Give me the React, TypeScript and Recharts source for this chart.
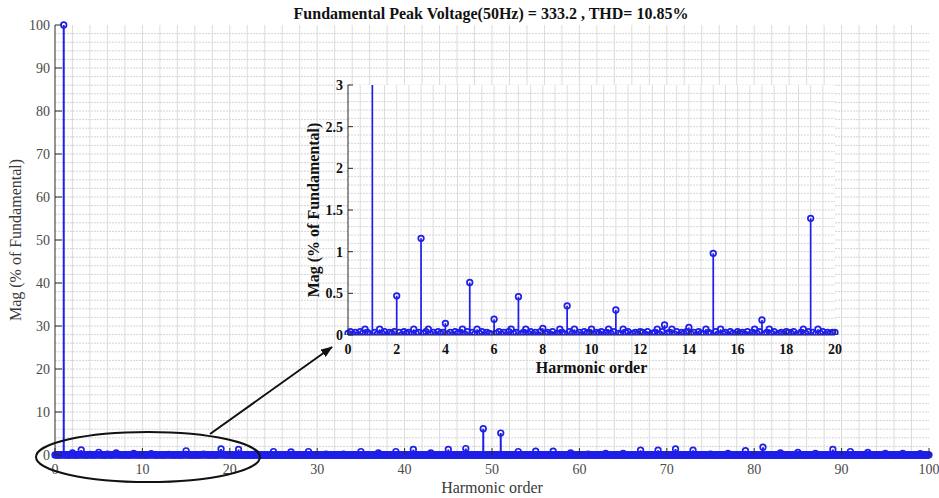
import {
  ComposedChart,
  Line,
  Scatter,
  XAxis,
  YAxis,
  CartesianGrid,
  ReferenceLine,
} from "recharts";

const BLUE = "#1f1fe8";
const AXIS = "#2b2b2b";
const SERIF = '"Liberation Serif", "Times New Roman", serif';

// FFT bins 0.0 .. 20.0 in steps of 0.1 harmonic order (% of fundamental)
const lowOrderBins = [
  0.02, 0.04, 0.01, 0.03, 0.0, 0.04, 0.02, 0.07, 0.03, 0.01, // 0
  100, 0.03, 0.01, 0.07, 0.02, 0.04, 0.0, 0.03, 0.02, 0.04, // 1
  0.47, 0.03, 0.0, 0.04, 0.02, 0.03, 0.01, 0.07, 0.02, 0.03, // 2
  1.16, 0.02, 0.04, 0.07, 0.01, 0.03, 0.0, 0.04, 0.02, 0.03, // 3
  0.14, 0.01, 0.03, 0.0, 0.04, 0.02, 0.03, 0.07, 0.01, 0.04, // 4
  0.63, 0.03, 0.01, 0.07, 0.02, 0.04, 0.0, 0.03, 0.02, 0.01, // 5
  0.19, 0.02, 0.04, 0.01, 0.03, 0.0, 0.04, 0.07, 0.02, 0.03, // 6
  0.46, 0.01, 0.03, 0.07, 0.02, 0.04, 0.01, 0.03, 0.0, 0.04, // 7
  0.08, 0.02, 0.03, 0.01, 0.04, 0.0, 0.02, 0.07, 0.03, 0.01, // 8
  0.35, 0.04, 0.02, 0.07, 0.01, 0.03, 0.0, 0.04, 0.02, 0.03, // 9
  0.07, 0.01, 0.03, 0.02, 0.04, 0.0, 0.03, 0.07, 0.02, 0.04, // 10
  0.3, 0.02, 0.01, 0.07, 0.03, 0.04, 0.0, 0.02, 0.03, 0.01, // 11
  0.04, 0.03, 0.01, 0.04, 0.0, 0.02, 0.03, 0.07, 0.01, 0.04, // 12
  0.12, 0.02, 0.03, 0.07, 0.01, 0.04, 0.0, 0.03, 0.02, 0.04, // 13
  0.09, 0.01, 0.03, 0.0, 0.04, 0.02, 0.01, 0.07, 0.03, 0.02, // 14
  0.98, 0.04, 0.01, 0.07, 0.02, 0.03, 0.0, 0.04, 0.02, 0.01, // 15
  0.04, 0.02, 0.03, 0.01, 0.04, 0.0, 0.03, 0.07, 0.02, 0.04, // 16
  0.18, 0.01, 0.03, 0.07, 0.02, 0.04, 0.0, 0.02, 0.03, 0.01, // 17
  0.04, 0.03, 0.02, 0.04, 0.0, 0.01, 0.03, 0.07, 0.02, 0.04, // 18
  1.4, 0.03, 0.01, 0.07, 0.02, 0.04, 0.0, 0.03, 0.02, 0.03, // 19
  0.03, // 20
];

// integer harmonics 21 .. 100 (% of fundamental)
const highOrderMag = [
  1.3, 0.1, 0.3, 0.05, 0.8, 0.1, 0.7, 0.05, 0.8, 0.05, // 21-30
  0.2, 0.05, 0.2, 0.05, 0.8, 0.05, 0.5, 0.05, 0.8, 0.1, // 31-40
  1.3, 0.05, 0.5, 0.05, 1.3, 0.1, 1.5, 0.05, 6.1, 0.1, // 41-50
  5.1, 0.05, 0.8, 0.05, 0.9, 0.05, 0.9, 0.05, 0.5, 0.05, // 51-60
  0.2, 0.05, 0.4, 0.05, 0.4, 0.05, 1.1, 0.05, 1.1, 0.05, // 61-70
  1.4, 0.05, 1.1, 0.05, 0.2, 0.05, 0.4, 0.05, 1.0, 0.1, // 71-80
  1.8, 0.05, 0.5, 0.05, 0.6, 0.05, 0.4, 0.05, 1.3, 0.05, // 81-90
  0.8, 0.05, 0.6, 0.05, 0.4, 0.05, 0.4, 0.05, 0.3, 0.05, // 91-100
];

const mainTicks = [0, 10, 20, 30, 40, 50, 60, 70, 80, 90, 100];
const insetTicksX = [0, 2, 4, 6, 8, 10, 12, 14, 16, 18, 20];
const insetTicksY = [0, 0.5, 1, 1.5, 2, 2.5, 3];

const titleText = "Fundamental Peak Voltage(50Hz) = 333.2 , THD= 10.85%";
const xTitle = "Harmonic order";
const yTitle = "Mag (% of Fundamental)";

const range = (from: number, to: number, step: number) => {
  const out: number[] = [];
  for (let v = from; v <= to + 1e-9; v += step) out.push(Math.round(v * 100) / 100);
  return out;
};
const mainGridX = range(2, 98, 2);
const mainGridY = range(2, 98, 2);
const insetGridX = range(0.5, 19.5, 0.5);
const insetGridY = range(0.1, 2.9, 0.1);

// full spectrum on the 0.1 grid; bins above order 20 only carry the integer harmonics
const spectrum: { x: number; y: number }[] = [];
for (let k = 0; k <= 1000; k++) {
  let y = 0;
  if (k < lowOrderBins.length) y = lowOrderBins[k];
  else if (k % 10 === 0) y = highOrderMag[k / 10 - 21];
  spectrum.push({ x: k / 10, y });
}
const insetSpectrum = spectrum.slice(0, lowOrderBins.length);

// stem lines: down to baseline, up to the value, back to baseline
const toStems = (pts: { x: number; y: number }[]) =>
  pts.flatMap((p) => [
    { x: p.x, y: 0 },
    { x: p.x, y: p.y },
    { x: p.x, y: 0 },
  ]);
const mainStems = toStems(spectrum);
const insetStems = toStems(insetSpectrum);

const Ring = (props: any) => (
  <circle cx={props.cx} cy={props.cy} r={2.8} fill="none" stroke={BLUE} strokeWidth={1.7} />
);

const textStyle = (bold: boolean) => ({
  fontFamily: SERIF,
  fontSize: 14,
  fontWeight: bold ? 700 : 400,
  fill: bold ? "#111" : "#4a4a4a",
});

const BottomTick = ({ x, y, payload, len, bold }: any) => (
  <g>
    <line x1={x} y1={y} x2={x} y2={y - len} stroke={AXIS} />
    <text x={x} y={y + 19} textAnchor="middle" {...textStyle(bold)}>
      {payload.value}
    </text>
  </g>
);
const LeftTick = ({ x, y, payload, len, bold }: any) => (
  <g>
    <line x1={x} y1={y} x2={x + len} y2={y} stroke={AXIS} />
    <text x={x - 5} y={y + 5} textAnchor="end" {...textStyle(bold)}>
      {payload.value}
    </text>
  </g>
);
const TopTick = ({ x, y, len }: any) => (
  <line x1={x} y1={y} x2={x} y2={y + len} stroke={AXIS} />
);
const RightTick = ({ x, y, len }: any) => (
  <line x1={x} y1={y} x2={x - len} y2={y} stroke={AXIS} />
);

const gridLines = (xs: number[], ys: number[], vStroke: string, hStroke: string) => [
  ...xs.map((v) => (
    <ReferenceLine key={`gx${v}`} x={v} stroke={vStroke} strokeWidth={1} />
  )),
  ...ys.map((v) => (
    <ReferenceLine key={`gy${v}`} y={v} stroke={hStroke} strokeWidth={1} strokeDasharray="2 1" />
  )),
];

const MainChart = () => (
  <ComposedChart width={939} height={498} margin={{ top: 25, right: 10, bottom: 0, left: 0 }}>
    {gridLines(mainGridX, mainGridY, "#dcdcdc", "#d4d4d4")}
    <XAxis
      type="number"
      dataKey="x"
      domain={[0, 100]}
      ticks={mainTicks}
      interval={0}
      height={43}
      tickSize={0}
      tickMargin={0}
      tickLine={false}
      axisLine={{ stroke: AXIS }}
      tick={(p: any) => <BottomTick {...p} len={7} bold={false} />}
      label={({ viewBox }: any) => (
        <text
          x={viewBox.x + viewBox.width / 2}
          y={viewBox.y + 38}
          textAnchor="middle"
          fontFamily={SERIF}
          fontSize={16}
          fill="#3a3a3a"
        >
          {xTitle}
        </text>
      )}
    />
    <XAxis
      xAxisId="top"
      orientation="top"
      type="number"
      domain={[0, 100]}
      ticks={mainTicks}
      interval={0}
      height={0}
      tickSize={0}
      tickMargin={0}
      tickLine={false}
      axisLine={{ stroke: AXIS }}
      tick={(p: any) => <TopTick {...p} len={7} />}
    />
    <YAxis
      type="number"
      dataKey="y"
      domain={[0, 100]}
      ticks={mainTicks}
      interval={0}
      width={55}
      tickSize={0}
      tickMargin={0}
      tickLine={false}
      axisLine={{ stroke: AXIS }}
      tick={(p: any) => <LeftTick {...p} len={7} bold={false} />}
      label={({ viewBox }: any) => {
        const cx = viewBox.x + 15;
        const cy = viewBox.y + viewBox.height / 2;
        return (
          <text
            x={cx}
            y={cy}
            transform={`rotate(-90 ${cx} ${cy})`}
            textAnchor="middle"
            dominantBaseline="central"
            fontFamily={SERIF}
            fontSize={16}
            fill="#3a3a3a"
          >
            {yTitle}
          </text>
        );
      }}
    />
    <YAxis
      yAxisId="right"
      orientation="right"
      type="number"
      domain={[0, 100]}
      ticks={mainTicks}
      interval={0}
      width={0}
      tickSize={0}
      tickMargin={0}
      tickLine={false}
      axisLine={{ stroke: AXIS }}
      tick={(p: any) => <RightTick {...p} len={7} />}
    />
    <Line
      data={mainStems}
      dataKey="y"
      type="linear"
      stroke={BLUE}
      strokeWidth={2}
      dot={false}
      activeDot={false}
      isAnimationActive={false}
    />
    <Scatter data={spectrum} dataKey="y" shape={Ring} isAnimationActive={false} />
  </ComposedChart>
);

const InsetChart = () => (
  <ComposedChart width={560} height={310} margin={{ top: 10, right: 16, bottom: 0, left: 0 }}>
    <CartesianGrid horizontal={false} vertical={false} fill="#ffffff" fillOpacity={1} />
    {gridLines(insetGridX, insetGridY, "#dddddd", "#d6d6d6")}
    <XAxis
      type="number"
      dataKey="x"
      domain={[0, 20]}
      ticks={insetTicksX}
      interval={0}
      height={50}
      tickSize={0}
      tickMargin={0}
      tickLine={false}
      axisLine={{ stroke: AXIS }}
      tick={(p: any) => <BottomTick {...p} len={5} bold />}
      label={({ viewBox }: any) => (
        <text
          x={viewBox.x + viewBox.width / 2}
          y={viewBox.y + 38}
          textAnchor="middle"
          fontFamily={SERIF}
          fontSize={16}
          fontWeight={700}
          fill="#111"
        >
          {xTitle}
        </text>
      )}
    />
    <XAxis
      xAxisId="top"
      orientation="top"
      type="number"
      domain={[0, 20]}
      ticks={insetTicksX}
      interval={0}
      height={0}
      tickSize={0}
      tickMargin={0}
      tickLine={false}
      axisLine={{ stroke: AXIS }}
      tick={(p: any) => <TopTick {...p} len={5} />}
    />
    <YAxis
      type="number"
      dataKey="y"
      domain={[0, 3]}
      allowDataOverflow
      ticks={insetTicksY}
      interval={0}
      width={57}
      tickSize={0}
      tickMargin={0}
      tickLine={false}
      axisLine={{ stroke: AXIS }}
      tick={(p: any) => <LeftTick {...p} len={5} bold />}
      label={({ viewBox }: any) => {
        const cx = viewBox.x + 22;
        const cy = viewBox.y + viewBox.height / 2;
        return (
          <text
            x={cx}
            y={cy}
            transform={`rotate(-90 ${cx} ${cy})`}
            textAnchor="middle"
            dominantBaseline="central"
            fontFamily={SERIF}
            fontSize={16}
            fontWeight={700}
            fill="#111"
          >
            {yTitle}
          </text>
        );
      }}
    />
    <YAxis
      yAxisId="right"
      orientation="right"
      type="number"
      domain={[0, 3]}
      ticks={insetTicksY}
      interval={0}
      width={0}
      tickSize={0}
      tickMargin={0}
      tickLine={false}
      axisLine={{ stroke: AXIS }}
      tick={(p: any) => <RightTick {...p} len={5} />}
    />
    <Line
      data={insetStems}
      dataKey="y"
      type="linear"
      stroke={BLUE}
      strokeWidth={1.7}
      dot={false}
      activeDot={false}
      isAnimationActive={false}
    />
    <Scatter data={insetSpectrum} dataKey="y" shape={Ring} isAnimationActive={false} />
  </ComposedChart>
);

export default function App() {
  return (
    <div style={{ position: "absolute", left: 0, top: 0, width: 939, height: 498, background: "#fff" }}>
      <MainChart />
      <div style={{ position: "absolute", left: 291, top: 75 }}>
        <InsetChart />
      </div>
      {/* title plus zoom callout: ellipse around orders 0-20 with an arrow to the inset */}
      <svg
        width={939}
        height={498}
        style={{ position: "absolute", left: 0, top: 0, pointerEvents: "none" }}
      >
        <defs>
          <marker
            id="calloutHead"
            markerWidth={12}
            markerHeight={9}
            refX={11}
            refY={4.5}
            orient="auto"
            markerUnits="userSpaceOnUse"
          >
            <path d="M0,0 L12,4.5 L0,9 Z" fill="#111" />
          </marker>
        </defs>
        <text
          x={491}
          y={19}
          textAnchor="middle"
          fontFamily={SERIF}
          fontSize={16}
          fontWeight={700}
          fill="#111"
        >
          {titleText}
        </text>
        <ellipse cx={148} cy={457} rx={112} ry={25} fill="none" stroke="#111" strokeWidth={2} />
        <line x1={210} y1={434} x2={332} y2={347} stroke="#111" strokeWidth={2} markerEnd="url(#calloutHead)" />
      </svg>
    </div>
  );
}
